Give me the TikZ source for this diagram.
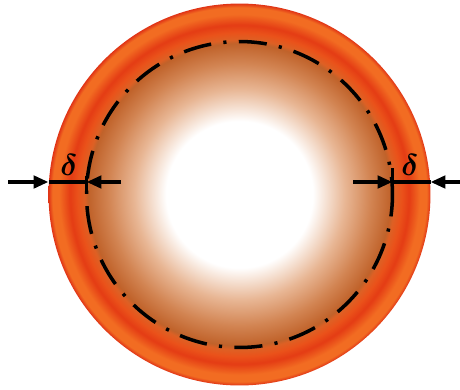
\documentclass[tikz,border=0pt]{standalone}
\usepackage{xcolor}
\usepackage{amsmath,amssymb}
\usepackage{tikz}
\usetikzlibrary{positioning}
\usetikzlibrary{shapes,calc,arrows.meta}

\definecolor{tanlight}{RGB}{232,182,148}
\definecolor{tanmid}{RGB}{210,132,82}
\definecolor{brownin}{RGB}{192,98,42}
\definecolor{orangein}{RGB}{222,96,36}
\definecolor{orangemid}{RGB}{234,82,26}
\definecolor{redband}{RGB}{228,60,20}
\definecolor{orangeout}{RGB}{242,108,34}
\definecolor{rededge}{RGB}{224,52,22}

\pgfdeclareradialshading{pipewall}{\pgfpoint{0bp}{0bp}}{%
  color(0bp)=(white); color(9.6bp)=(white);
  color(13.8bp)=(tanlight); color(17.2bp)=(tanmid);
  color(19.8bp)=(brownin); color(20.3bp)=(orangein);
  color(21.2bp)=(orangemid); color(22.2bp)=(redband);
  color(23.6bp)=(orangeout); color(24.5bp)=(orangeout);
  color(25bp)=(rededge); color(50bp)=(rededge)}

\begin{document}
\begin{tikzpicture}[x=0.02cm,y=-0.02cm,
  dim/.style={line width=2.2pt,-{Triangle[length=8.5pt,width=7pt]}},
  bar/.style={line width=2.2pt},
  dashdot/.style={line width=2pt,dash pattern=on 16pt off 7pt on 1.8pt off 7pt}]
\useasboundingbox (0,0) rectangle (460,389);
\coordinate (C) at (239.5,194.5);
\shade[shading=pipewall] (C) circle[radius=3.82cm];
\draw[dashdot,dash phase=6pt] (C) circle[radius=3.06cm];
% left side
\coordinate (Lfar) at (8,182);
\coordinate (Lout) at (48.5,182);
\coordinate (Lin) at (86.5,182);
\coordinate (Lnear) at (121,182);
\draw[dim] (Lfar) -- (Lout);
\draw[bar] (Lout) -- (Lin);
\draw[dim] (Lnear) -- (Lin);
\draw[bar] (86.5,176) -- (86.5,191);
\node at (69,165) (deltaL) {\LARGE$\boldsymbol{\delta}$};
% right side
\coordinate (Rnear) at (353,182);
\coordinate (Rin) at (392.5,182);
\coordinate (Rout) at (430.5,182);
\coordinate (Rfar) at (460,182);
\draw[dim] (Rnear) -- (Rin);
\draw[bar] (Rin) -- (Rout);
\draw[dim] (Rfar) -- (Rout);
\draw[bar] (392.5,168) -- (392.5,191);
\node at (410,165) (deltaR) {\LARGE$\boldsymbol{\delta}$};
\end{tikzpicture}
\end{document}
